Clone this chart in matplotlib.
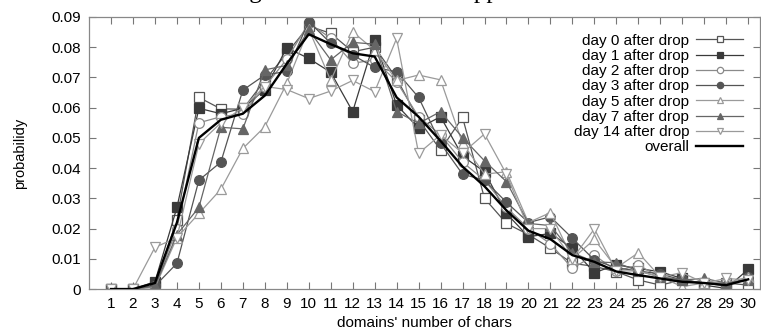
import matplotlib
matplotlib.use("Agg")
import matplotlib.pyplot as plt

# Domain name lengths on the x axis
chars = list(range(1, 31))

# Probability per length
day0 = [0, 0, 0.001, 0.023, 0.0634, 0.0596, 0.0595, 0.069, 0.078, 0.087,
        0.0846, 0.0785, 0.080, 0.0697, 0.056, 0.046, 0.0568, 0.030, 0.0217, 0.018,
        0.0135, 0.0085, 0.0075, 0.0057, 0.003, 0.0013, 0.003, 0.002, 0.002, 0.0013]
day1 = [0, 0, 0.0024, 0.027, 0.0598, 0.058, 0.0598, 0.066, 0.0798, 0.0763,
        0.0717, 0.0587, 0.0824, 0.0609, 0.0532, 0.057, 0.044, 0.0388, 0.025, 0.0173,
        0.0184, 0.0135, 0.0054, 0.008, 0.0068, 0.0057, 0.0035, 0.0013, 0.0002, 0.0065]
day2 = [0, 0, 0.001, 0.020, 0.055, 0.057, 0.058, 0.067, 0.076, 0.088,
        0.083, 0.0747, 0.0758, 0.0686, 0.057, 0.051, 0.042, 0.036, 0.027, 0.020,
        0.015, 0.0068, 0.0112, 0.006, 0.0079, 0.004, 0.003, 0.002, 0.002, 0.003]
day3 = [0, 0, 0.001, 0.0085, 0.036, 0.042, 0.0658, 0.0708, 0.072, 0.0885,
        0.0813, 0.0774, 0.0733, 0.0719, 0.0634, 0.0482, 0.038, 0.036, 0.0287, 0.022,
        0.0239, 0.0168, 0.0096, 0.007, 0.006, 0.005, 0.003, 0.002, 0.001, 0.004]
day5 = [0, 0, 0.0005, 0.017, 0.025, 0.033, 0.0465, 0.0537, 0.068, 0.086,
        0.069, 0.0851, 0.079, 0.069, 0.0708, 0.0692, 0.0482, 0.038, 0.0388, 0.022,
        0.0253, 0.010, 0.0164, 0.007, 0.012, 0.004, 0.0008, 0.002, 0.002, 0.004]
day7 = [0, 0, 0.001, 0.018, 0.027, 0.0535, 0.053, 0.0725, 0.074, 0.0857,
        0.0758, 0.0816, 0.081, 0.0587, 0.0548, 0.0587, 0.0501, 0.0424, 0.0355, 0.0217,
        0.021, 0.012, 0.009, 0.0087, 0.006, 0.004, 0.003, 0.0035, 0.002, 0.003]
day14 = [0, 0, 0.0138, 0.017, 0.048, 0.055, 0.060, 0.067, 0.066, 0.063,
         0.0655, 0.069, 0.0653, 0.0829, 0.0449, 0.051, 0.045, 0.0513, 0.038, 0.020,
         0.020, 0.010, 0.0199, 0.006, 0.006, 0.004, 0.0054, 0.002, 0.0035, 0.003]
overall = [0, 0, 0.002, 0.022, 0.050, 0.056, 0.058, 0.064, 0.0745, 0.0843,
           0.081, 0.078, 0.0769, 0.0634, 0.057, 0.049, 0.0405, 0.034, 0.026, 0.0193,
           0.0165, 0.0112, 0.009, 0.0058, 0.0046, 0.0035, 0.0024, 0.002, 0.0013, 0.0032]

labels = ["day 0 after drop", "day 1 after drop", "day 2 after drop",
          "day 3 after drop", "day 5 after drop", "day 7 after drop",
          "day 14 after drop"]
ytick_labels = ["0", "0.01", "0.02", "0.03", "0.04", "0.05", "0.06", "0.07", "0.08", "0.09"]

plt.rcParams["font.family"] = ["Liberation Sans", "DejaVu Sans"]

fig = plt.figure(figsize=(7.61, 3.33), dpi=100)
ax = fig.add_axes([0.117, 0.132, 0.882, 0.817])

# marker, colour, filled?
styles = [("s", "#555555", False),
          ("s", "#3a3a3a", True),
          ("o", "#8a8a8a", False),
          ("o", "#555555", True),
          ("^", "#9a9a9a", False),
          ("^", "#666666", True),
          ("v", "#9a9a9a", False)]

for series, label, (mk, col, filled) in zip([day0, day1, day2, day3, day5, day7, day14],
                                            labels, styles):
    ax.plot(chars, series, color=col, lw=0.9, marker=mk, markersize=7,
            markerfacecolor=col if filled else "white", markeredgecolor=col,
            markeredgewidth=0.9, label=label)

ax.plot(chars, overall, color="black", lw=1.7, label="overall", zorder=5)

ax.set_xlim(0, 30.55)
ax.set_ylim(0, 0.09)
ax.set_xticks(chars)
ax.set_yticks([i * 0.01 for i in range(10)])
ax.set_yticklabels(ytick_labels)
ax.tick_params(direction="in", length=5, width=0.8, color="#777777",
               top=True, right=True, labelsize=11, pad=6)
for s in ax.spines.values():
    s.set_color("#888888")
    s.set_linewidth(0.9)

ax.set_xlabel("domains' number of chars", fontsize=11, labelpad=3)
ax.set_ylabel("probabilidy", fontsize=10.5, labelpad=17)

ax.legend(loc="upper right", bbox_to_anchor=(1.0, 1.0), frameon=False,
          markerfirst=False, fontsize=11, handlelength=3.1, handletextpad=0.45,
          labelspacing=0.08, borderpad=0.5, borderaxespad=0.6, markerscale=0.65)

# clipped caption line from the page above the chart
fig.text(-0.1, 1.006, "Distribution of domain names registered for names dropped in November 2011.",
         family="Liberation Serif", fontsize=18, va="baseline", ha="left")

fig.savefig("out.png", dpi=100)
